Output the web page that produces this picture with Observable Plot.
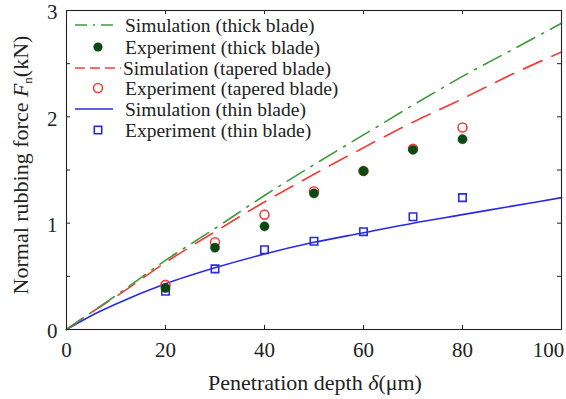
<!DOCTYPE html>
<html><head><meta charset="utf-8">
<script src="https://cdn.jsdelivr.net/npm/d3@7"></script>
<script src="https://cdn.jsdelivr.net/npm/@observablehq/plot@0.6"></script>
<style>
body{margin:0;background:#fff}
#chart svg, #chart svg text, #chart svg tspan { font-family: "Liberation Serif", "Times New Roman", serif !important; }
</style>
</head><body><div id="chart"></div>
<script>
const simX = [0, 5, 10, 20, 30, 40, 50, 60, 70, 80, 90, 100];
const simThick = [0, 0.16, 0.32, 0.65, 0.95, 1.26, 1.55, 1.83, 2.11, 2.38, 2.63, 2.88];
const simTapered = [0, 0.16, 0.31, 0.63, 0.92, 1.20, 1.46, 1.71, 1.95, 2.17, 2.40, 2.61];
const simThin = [0, 0.13, 0.24, 0.43, 0.58, 0.71, 0.82, 0.91, 1.00, 1.08, 1.16, 1.24];
const expX = [20, 30, 40, 50, 60, 70, 80];
const expThick = [0.39, 0.77, 0.97, 1.28, 1.49, 1.69, 1.79];
const expTapered = [0.42, 0.82, 1.08, 1.30, 1.49, 1.70, 1.90];
const expThin = [0.36, 0.57, 0.75, 0.83, 0.92, 1.06, 1.24];
const xTicks = [0, 20, 40, 60, 80, 100];
const yTicks = [0, 0.5, 1, 1.5, 2, 2.5, 3];
const yLabels = [0, 1, 2, 3];
const legendLabels = ["Simulation (thick blade)", "Experiment (thick blade)", "Simulation (tapered blade)",
  "Experiment (tapered blade)", "Simulation (thin blade)", "Experiment (thin blade)"];

const FONT = "Liberation Serif";
const C = {green: "#3c9a3c", dgreen: "#0a4a12", red: "#f2403c", blue: "#2a2ae6", ink: "#222"};
const S = {
  thick: {stroke: C.green, strokeWidth: 1.6, strokeDasharray: "20,8,2,8"},
  tapered: {stroke: C.red, strokeWidth: 1.7, strokeDasharray: "20,11"},
  thin: {stroke: C.blue, strokeWidth: 1.6}
};
const sim = (ys) => simX.map((x, i) => ({x, y: ys[i]}));
const exp = (ys) => expX.map((x, i) => ({x, y: ys[i]}));

const W = 566, H = 399, mL = 66, mR = 5, mT = 10, mB = 70;
const tickPx = 4;
const yPerPx = 3 / (H - mT - mB), xPerPx = 100 / (W - mL - mR);

const chart = Plot.plot({
  width: W, height: H,
  marginLeft: mL, marginRight: mR, marginTop: mT, marginBottom: mB,
  style: {fontFamily: FONT, fontSize: "21px", color: C.ink, background: "#fff"},
  x: {domain: [0, 100]},
  y: {domain: [0, 3]},
  marks: [
    Plot.line(sim(simThin), {x: "x", y: "y", ...S.thin, curve: "monotone-x"}),
    Plot.line(sim(simTapered), {x: "x", y: "y", ...S.tapered, curve: "monotone-x"}),
    Plot.line(sim(simThick), {x: "x", y: "y", ...S.thick, curve: "monotone-x"}),
    Plot.dot(exp(expThin), {x: "x", y: "y", symbol: "square", r: 4.2, stroke: C.blue, strokeWidth: 1.6, fill: "none"}),
    Plot.dot(exp(expTapered), {x: "x", y: "y", r: 4.5, stroke: C.red, strokeWidth: 1.6, fill: "none"}),
    Plot.dot(exp(expThick), {x: "x", y: "y", r: 4.6, fill: C.dgreen, stroke: C.dgreen, strokeWidth: 0.5}),
    // inward ticks
    Plot.ruleX(xTicks.slice(1, -1), {x: d => d, y1: 0, y2: tickPx * yPerPx, stroke: C.ink}),
    Plot.ruleX(xTicks.slice(1, -1), {x: d => d, y1: 3 - tickPx * yPerPx, y2: 3, stroke: C.ink}),
    Plot.ruleY(yTicks.slice(1, -1), {y: d => d, x1: 0, x2: tickPx * xPerPx, stroke: C.ink}),
    Plot.ruleY(yTicks.slice(1, -1), {y: d => d, x1: 100 - tickPx * xPerPx, x2: 100, stroke: C.ink}),
    Plot.frame({stroke: C.ink, strokeWidth: 1.1}),
    Plot.axisX({ticks: xTicks.slice(0, -1), tickFormat: d => String(d), tickSize: 0, tickPadding: 13, label: null, fontSize: 21}),
    Plot.axisX({ticks: xTicks.slice(-1), tickFormat: d => String(d), tickSize: 0, tickPadding: 13, dx: -13, label: null, fontSize: 21}),
    Plot.axisY({ticks: yLabels, tickFormat: d => String(d), tickSize: 0, tickPadding: 9, dy: 2, label: null, fontSize: 21})
  ]
});

document.getElementById("chart").appendChild(chart);
const svg = d3.select(chart);

// axis titles
const xt = svg.append("text").attr("x", 315).attr("y", 390).attr("text-anchor", "middle")
  .attr("font-family", FONT).attr("font-size", 22).attr("fill", C.ink);
xt.append("tspan").text("Penetration depth ");
xt.append("tspan").attr("font-style", "italic").text("δ");
xt.append("tspan").text("(μm)");

const yt = svg.append("text").attr("transform", "translate(28,165) rotate(-90)").attr("text-anchor", "middle")
  .attr("font-family", FONT).attr("font-size", 22).attr("fill", C.ink);
yt.append("tspan").text("Normal rubbing force ");
yt.append("tspan").attr("font-style", "italic").text("F");
yt.append("tspan").attr("font-size", 13).attr("dy", 4).text("n");
yt.append("tspan").attr("dy", -4).text("(kN)");

// legend
const lg = svg.append("g").attr("font-family", FONT).attr("font-size", 19.5).attr("fill", C.ink).attr("text-anchor", "start");
const rowsY = [25, 47, 68, 88, 109, 130];
const textX = [125, 125, 123, 125, 125, 125];
legendLabels.forEach((t, i) => {
  lg.append("text").attr("x", textX[i]).attr("y", rowsY[i] + 6.5).attr("text-anchor", "start").text(t);
});
const lineKeys = [["thick", 0], ["tapered", 2], ["thin", 4]];
lineKeys.forEach(([k, i]) => {
  const st = S[k];
  lg.append("line").attr("x1", 75).attr("x2", k === "tapered" ? 121 : 113)
    .attr("y1", rowsY[i]).attr("y2", rowsY[i])
    .attr("stroke", st.stroke).attr("stroke-width", st.strokeWidth)
    .attr("stroke-dasharray", k === "thick" ? "12,6,2,6" : k === "tapered" ? "10,5" : null);
});
lg.append("circle").attr("cx", 98).attr("cy", rowsY[1]).attr("r", 4.6).attr("fill", C.dgreen);
lg.append("circle").attr("cx", 98).attr("cy", rowsY[3]).attr("r", 4.5).attr("fill", "none").attr("stroke", C.red).attr("stroke-width", 1.6);
lg.append("rect").attr("x", 94.3).attr("y", rowsY[5] - 3.7).attr("width", 7.4).attr("height", 7.4)
  .attr("fill", "none").attr("stroke", C.blue).attr("stroke-width", 1.6);
</script>
</body></html>
